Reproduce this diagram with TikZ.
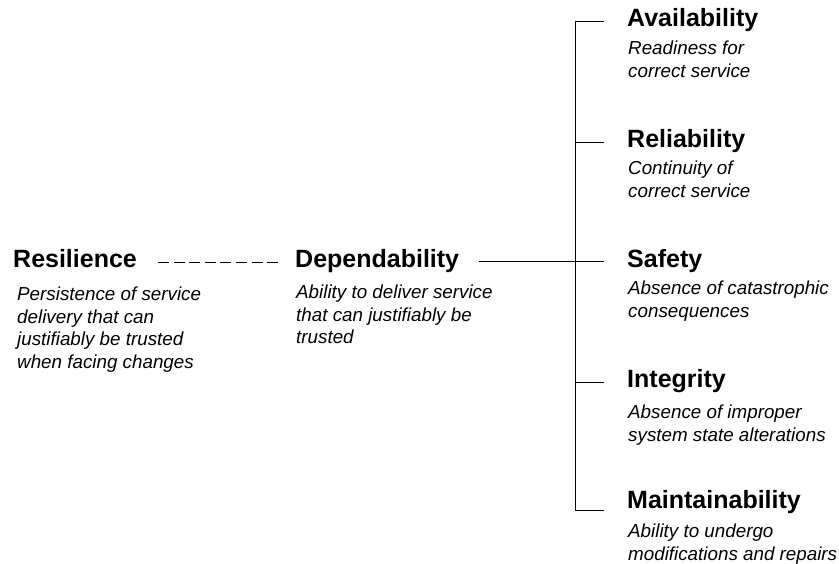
\documentclass[tikz,border=0pt]{standalone}
\usepackage{fontspec}
\setmainfont{Liberation Sans}
\usetikzlibrary{calc}
\tikzset{
  attr/.style={anchor=base west, inner sep=0pt, font=\fontsize{25}{30}\selectfont\bfseries},
  desc/.style={anchor=north west, inner sep=0pt, align=left,
    font=\fontsize{18.8}{22.4}\selectfont\itshape, execute at begin node=\strut},
  link/.style={line width=1pt},
  dashlink/.style={link, dash pattern=on 11pt off 4.6pt},
}

\begin{document}
\begin{tikzpicture}[x=1pt, y=-1pt]
  \useasboundingbox (0,0) rectangle (839,564);

  % Left part
  \node[attr] (res) at (13,268) {Resilience};
  \node[desc] (res-txt) at (17,287) {Persistence of service\\delivery that can\\justifiably be trusted\\when facing changes};

  \node[attr] (dep) at (295,268) {Dependability};
  \node[desc] (dep-txt) at (296,285) {Ability to deliver service\\that can justifiably be\\trusted};

  % Attributes
  \node[attr] (avail) at (627,27) {Availability};
  \node[desc] (avail-txt) at (628,41) {Readiness for\\correct service};

  \node[attr] (relia) at (627,148) {Reliability};
  \node[desc] (relia-txt) at (628,161) {Continuity of\\correct service};

  \node[attr] (safety) at (627,268) {Safety};
  \node[desc] (safety-txt) at (628,281) {Absence of catastrophic\\consequences};

  \node[attr] (integ) at (627,388) {Integrity};
  \node[desc] (integ-txt) at (628,405) {Absence of improper\\system state alterations};

  \node[attr] (maint) at (627,508) {Maintainability};
  \node[desc] (maint-txt) at (628,524) {Ability to undergo\\modifications and repairs};

  % Stubs and bus
  \coordinate (bus) at (575,0);
  \foreach \n/\dy in {avail/-5, relia/-5, safety/-6, integ/-5, maint/2}
    \coordinate (\n-stub) at ($(\n.base west)+(-23,\dy)$);

  \draw[link] (avail-stub) -| (bus |- maint-stub) -- (maint-stub);
  \foreach \n in {relia,safety,integ}
    \draw[link] (\n-stub) -- (bus |- \n-stub);

  % Connections
  \draw[dashlink] ($(res.base east)+(21,-5)$) -- ($(dep.base west)+(-17,-5)$);
  \draw[link] ($(dep.base east)+(20,-6)$) -- (bus |- safety-stub);
\end{tikzpicture}
\end{document}
